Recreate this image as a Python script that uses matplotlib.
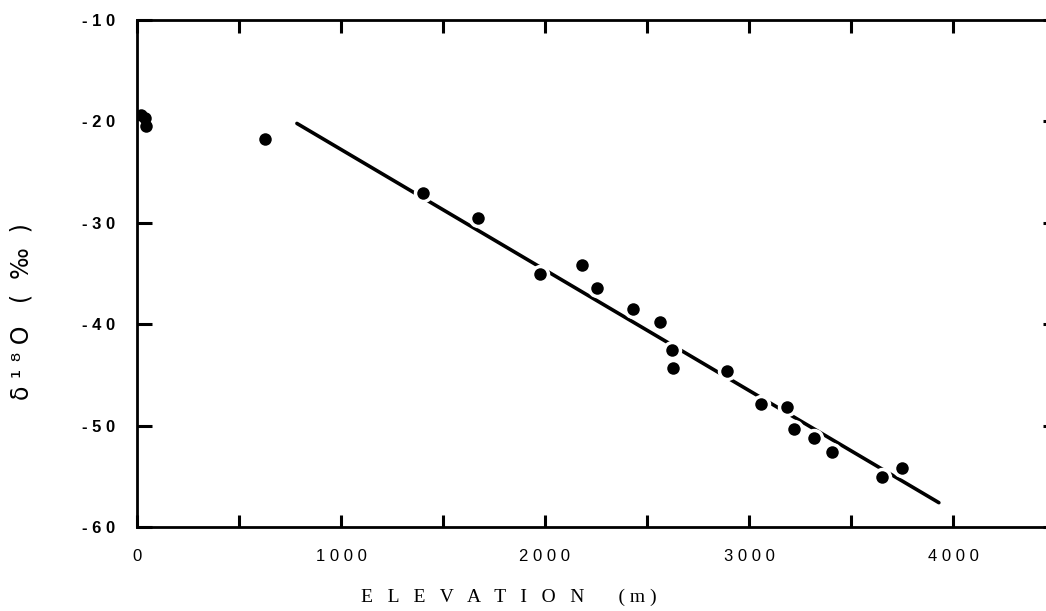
import numpy as np
import matplotlib
matplotlib.use("Agg")
import matplotlib.pyplot as plt

# elevation (m) and delta 18O (permil)
elevation = [20, 40, 45, 627, 1402, 1672, 1975, 2181, 2255, 2431, 2564,
             2623, 2627, 2892, 3059, 3186, 3221, 3319, 3407, 3652, 3750]
d18o = [-19.4, -19.7, -20.5, -21.7, -27.1, -29.5, -35.0, -34.2, -36.4, -38.5, -39.8,
        -42.5, -44.3, -44.6, -47.9, -48.2, -50.3, -51.2, -52.6, -55.1, -54.2]

# regression line end points
line_x = [784, 3931]
line_y = [-20.2, -57.6]

xticks = [0, 1000, 2000, 3000, 4000]
xtick_labels = ["0", "1 0 0 0", "2 0 0 0", "3 0 0 0", "4 0 0 0"]
yticks = [-60, -50, -40, -30, -20, -10]
ytick_labels = ["- 6 0", "- 5 0", "- 4 0", "- 3 0", "- 2 0", "- 1 0"]

fig = plt.figure(figsize=(10.46, 6.11), dpi=100)
# right edge of the frame lies just outside the picture, as in the scan
ax = fig.add_axes([137 / 1046, 1 - 527 / 611, (1058 - 137) / 1046, 507 / 611])

ax.plot(line_x, line_y, color="black", lw=2.6, solid_capstyle="round", zorder=2.1)
# white halo around dots breaks the line like in the scan
ax.plot(elevation, d18o, "o", color="white", ms=14, mew=0, zorder=2.3)
ax.plot(elevation, d18o, "o", color="black", ms=9, mew=0, zorder=3)

ax.set_xlim(0, 4515)
ax.set_ylim(-60, -10)

ax.set_xticks(xticks)
ax.set_xticklabels(xtick_labels, fontfamily="Liberation Sans", fontsize=12)
ax.set_xticks(np.arange(500, 4500, 1000), minor=True)
ax.set_yticks(yticks)
ax.set_yticklabels(ytick_labels, fontfamily="Liberation Sans", fontsize=12,
                   fontweight="bold")

ax.tick_params(axis="x", which="both", direction="in", top=True, bottom=True,
               length=9, width=2.2, pad=16)
ax.tick_params(axis="y", which="both", direction="in", left=True, right=True,
               length=11, width=2.2, pad=16)

for s in ax.spines.values():
    s.set_linewidth(2.0)

fig.text(509 / 1046, 1 - 597 / 611,
         "E   L   E   V   A   T   I   O   N       ( m )",
         fontfamily="Liberation Serif", fontsize=14, ha="center", va="center")
fig.text(22 / 1046, 1 - 312 / 611, "δ ¹ ⁸ O   (  ‰  )",
         fontfamily="DejaVu Sans", fontsize=17, rotation=90,
         ha="center", va="center")

fig.savefig("out.png", dpi=100, facecolor="white")
